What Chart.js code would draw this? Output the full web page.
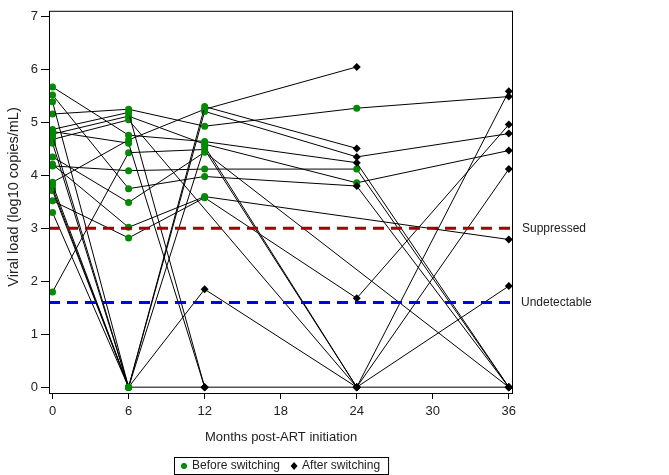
<!DOCTYPE html>
<html>
<head>
<meta charset="utf-8">
<script src="https://cdn.jsdelivr.net/npm/chart.js@4.4.1/dist/chart.umd.min.js"></script>
<style>
  body { margin: 0; background: #fff; }
  canvas { display: block; }
</style>
</head>
<body>
<canvas id="grafica" width="669" height="475"></canvas>
<script>
// meses de seguimiento
const months = [0, 6, 12, 24, 36];
const xTicks = [0, 6, 12, 18, 24, 30, 36];
const yTicks = [0, 1, 2, 3, 4, 5, 6, 7];

// carga viral por paciente (log10), null = sin medicion
const s1  = [5.67, 4.76, 4.64, 4.24, 0];
const s2  = [5.52, 3.75, 3.98, 3.80, 0];
const s3  = [5.39, 0, 5.30, 4.51, null];
const s4  = [5.16, 5.25, 4.93, 5.27, 5.49];
const s5  = [4.87, 5.19, 0, null, null];
const s6  = [4.83, 4.61, 0, null, null];
const s7  = [4.78, 5.12, 4.59, 3.86, 4.47];
const s8  = [4.74, 0, 5.21, 4.35, 4.79];
const s9  = [4.68, 5.05, null, 0, null];
const s10 = [4.61, 0, 0, 0, 0];
const s11 = [4.35, 3.49, 4.44, null, 0];
const s12 = [4.21, 3.02, 3.60, null, 2.79];
const s13 = [4.18, 4.09, 4.12, 4.12, 0];
const s14 = [3.87, 4.67, 5.25, 6.05, null];
const s15 = [3.83, 0, 4.55, 0, 5.59];
const s16 = [3.76, 0, 1.85, 0, 1.91];
const s17 = [3.71, 0, null, null, null];
const s18 = [3.52, 2.82, 3.58, 1.68, 4.96];
const s19 = [3.30, 0, null, null, null];
const s20 = [1.80, 4.43, 4.49, 0, 4.12];
const pacientes = [s1, s2, s3, s4, s5, s6, s7, s8, s9, s10, s11, s12, s13, s14, s15, s16, s17, s18, s19, s20];

// indice de la primera medicion despues del cambio (5 = nunca)
const switchIdx = [3, 3, 3, 4, 2, 2, 4, 3, 3, 2, 4, 4, 4, 3, 3, 2, 5, 3, 5, 3];

// lineas de referencia
const suppressed = 3;
const undetectable = 1.6;

const verde = '#008a00';
const xMin = -0.28, xMax = 36.33;
const yMin = -0.11, yMax = 7.11;

const datasets = pacientes.map((vals, i) => ({
    data: vals.map((v, j) => ({ x: months[j], y: v, after: j >= switchIdx[i] }))
              .filter(p => p.y !== null),
    borderColor: '#000',
    borderWidth: 1,
    pointRadius: ctx => ctx.raw && ctx.raw.after ? 4 : 3.5,
    pointStyle: ctx => ctx.raw && ctx.raw.after ? 'rectRot' : 'circle',
    pointBackgroundColor: ctx => ctx.raw && ctx.raw.after ? '#000' : verde,
    pointBorderColor: ctx => ctx.raw && ctx.raw.after ? '#000' : verde,
    pointBorderWidth: 0,
    tension: 0,
    order: 1
}));

datasets.push({
    data: [{ x: xMin, y: suppressed }, { x: xMax, y: suppressed }],
    borderColor: '#a00000', borderWidth: 3, borderDash: [11, 7],
    pointRadius: 0, order: 0
});
datasets.push({
    data: [{ x: xMin, y: undetectable }, { x: xMax, y: undetectable }],
    borderColor: '#0000f0', borderWidth: 3, borderDash: [11, 7],
    pointRadius: 0, order: 0
});

const fuente = '"Liberation Sans", Arial, sans-serif';

const extras = {
    id: 'extras',
    afterDraw(chart) {
        const { ctx, chartArea: a, scales: { x, y } } = chart;
        ctx.save();
        // marco
        ctx.strokeStyle = '#000';
        ctx.lineWidth = 1;
        ctx.strokeRect(a.left + 0.5, a.top + 0.5, a.right - a.left - 1, a.bottom - a.top);

        ctx.fillStyle = '#222';
        ctx.font = '12px ' + fuente;
        ctx.textAlign = 'left';
        ctx.textBaseline = 'middle';
        ctx.fillText('Suppressed', a.right + 9, y.getPixelForValue(suppressed));
        ctx.fillText('Undetectable', a.right + 8, y.getPixelForValue(undetectable));

        // titulos de ejes
        ctx.font = '13px ' + fuente;
        ctx.textAlign = 'center';
        ctx.fillText('Months post-ART initiation', (a.left + a.right) / 2, 437);
        ctx.save();
        ctx.font = '14.5px ' + fuente;
        ctx.translate(14, 197);
        ctx.rotate(-Math.PI / 2);
        ctx.fillText('Viral load (log10 copies/mL)', 0, 0);
        ctx.restore();

        // leyenda
        ctx.font = '12px ' + fuente;
        const t1 = 'Before switching', t2 = 'After switching';
        const w1 = ctx.measureText(t1).width, w2 = ctx.measureText(t2).width;
        const w = 8 + 10 + w1 + 12 + 10 + w2 + 8;
        const cx = (a.left + a.right) / 2;
        const bx = Math.round(cx - w / 2), by = 457, bh = 17;
        ctx.strokeStyle = '#000';
        ctx.strokeRect(bx + 0.5, by + 0.5, w, bh);
        const my = by + bh / 2 + 0.5;
        let px = bx + 10;
        ctx.fillStyle = verde;
        ctx.beginPath(); ctx.arc(px, my, 3, 0, Math.PI * 2); ctx.fill();
        ctx.fillStyle = '#222';
        ctx.textAlign = 'left';
        ctx.fillText(t1, px + 8, my);
        px = px + 8 + w1 + 14;
        ctx.fillStyle = '#000';
        ctx.beginPath();
        ctx.moveTo(px, my - 4); ctx.lineTo(px + 3.5, my); ctx.lineTo(px, my + 4); ctx.lineTo(px - 3.5, my);
        ctx.closePath(); ctx.fill();
        ctx.fillStyle = '#222';
        ctx.fillText(t2, px + 8, my);
        ctx.restore();
    }
};

new Chart(document.getElementById('grafica'), {
    type: 'line',
    data: { datasets },
    options: {
        responsive: false,
        animation: false,
        devicePixelRatio: 1,
        layout: { padding: { left: 0, right: 156, top: 1, bottom: 0 } },
        plugins: { legend: { display: false }, tooltip: { enabled: false } },
        scales: {
            x: {
                type: 'linear', min: xMin, max: xMax,
                afterBuildTicks: s => { s.ticks = xTicks.map(v => ({ value: v })); },
                afterFit: s => { s.height = 82; },
                grid: { drawOnChartArea: false, color: '#000', tickLength: 6 },
                border: { display: false },
                ticks: { color: '#222', font: { size: 13, family: fuente }, padding: 5, maxRotation: 0 }
            },
            y: {
                min: yMin, max: yMax,
                afterBuildTicks: s => { s.ticks = yTicks.map(v => ({ value: v })); },
                afterFit: s => { s.width = 49; },
                grid: { drawOnChartArea: false, color: '#000', tickLength: 8 },
                border: { display: false },
                ticks: { color: '#222', font: { size: 13, family: fuente }, padding: 3 }
            }
        }
    },
    plugins: [extras]
});
</script>
</body>
</html>
